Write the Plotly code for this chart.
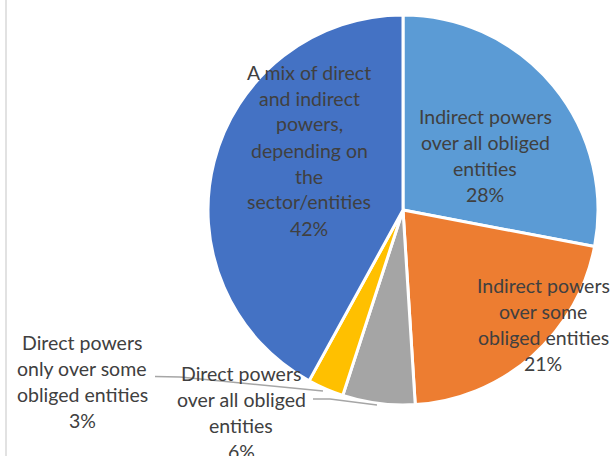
import plotly.graph_objects as go

categories = [
    "Indirect powers over all obliged entities",
    "Indirect powers over some obliged entities",
    "Direct powers over all obliged entities",
    "Direct powers only over some obliged entities",
    "A mix of direct and indirect powers, depending on the sector/entities",
]
values = [28, 21, 6, 3, 42]
colors = ["#5B9BD5", "#ED7D31", "#A5A5A5", "#FFC000", "#4472C4"]

label_lines = [
    ["Indirect powers", "over all obliged", "entities", "28%"],
    ["Indirect powers", "over some", "obliged entities", "21%"],
    ["Direct powers", "over all obliged", "entities", "6%"],
    ["Direct powers", "only over some", "obliged entities", "3%"],
    ["A mix of direct", "and indirect", "powers,", "depending on", "the", "sector/entities", "42%"],
]

W, H = 614, 456
# label block positions (pixel x center, pixel y of first line)
label_pos = [(485, 116), (543, 285), (241, 373), (82, 342), (309, 72)]
line_gap = 26

cx, cy, r = 403, 210, 195

fig = go.Figure(go.Pie(
    labels=categories,
    values=values,
    sort=False,
    direction="clockwise",
    rotation=0,
    textinfo="none",
    textposition="none",
    marker=dict(colors=colors, line=dict(color="white", width=3)),
    showlegend=False,
    domain=dict(x=[(cx - r) / W, (cx + r) / W], y=[1 - (cy + r) / H, 1 - (cy - r) / H]),
))

annotations = []
for lines, (x0, y0) in zip(label_lines, label_pos):
    for i, t in enumerate(lines):
        annotations.append(dict(
            text=t, x=x0 / W, y=1 - (y0 + i * line_gap) / H,
            xref="paper", yref="paper", xanchor="center", yanchor="middle",
            showarrow=False, font=dict(family="Lato", size=19.5, color="#404040"),
        ))

shapes = [
    # leader lines
    dict(type="path", xref="paper", yref="paper",
         path=f"M {155/W} {1-376.5/H} L {180/W} {1-377/H} L {323/W} {1-391/H}",
         line=dict(color="#A6A6A6", width=1.5)),
    dict(type="path", xref="paper", yref="paper",
         path=f"M {313/W} {1-399/H} L {330/W} {1-399/H} L {377/W} {1-405/H}",
         line=dict(color="#A6A6A6", width=1.5)),
    # chart frame left edge
    dict(type="line", xref="paper", yref="paper", x0=6 / W, x1=6 / W, y0=0, y1=1,
         line=dict(color="#D9D9D9", width=1.5)),
]

fig.update_layout(
    width=W, height=H,
    margin=dict(l=0, r=0, t=0, b=0),
    paper_bgcolor="white", plot_bgcolor="white",
    annotations=annotations, shapes=shapes,
)
fig.write_html("out.html", config={"displayModeBar": False},
               post_script="document.body.style.margin='0';document.body.style.overflow='hidden';")
